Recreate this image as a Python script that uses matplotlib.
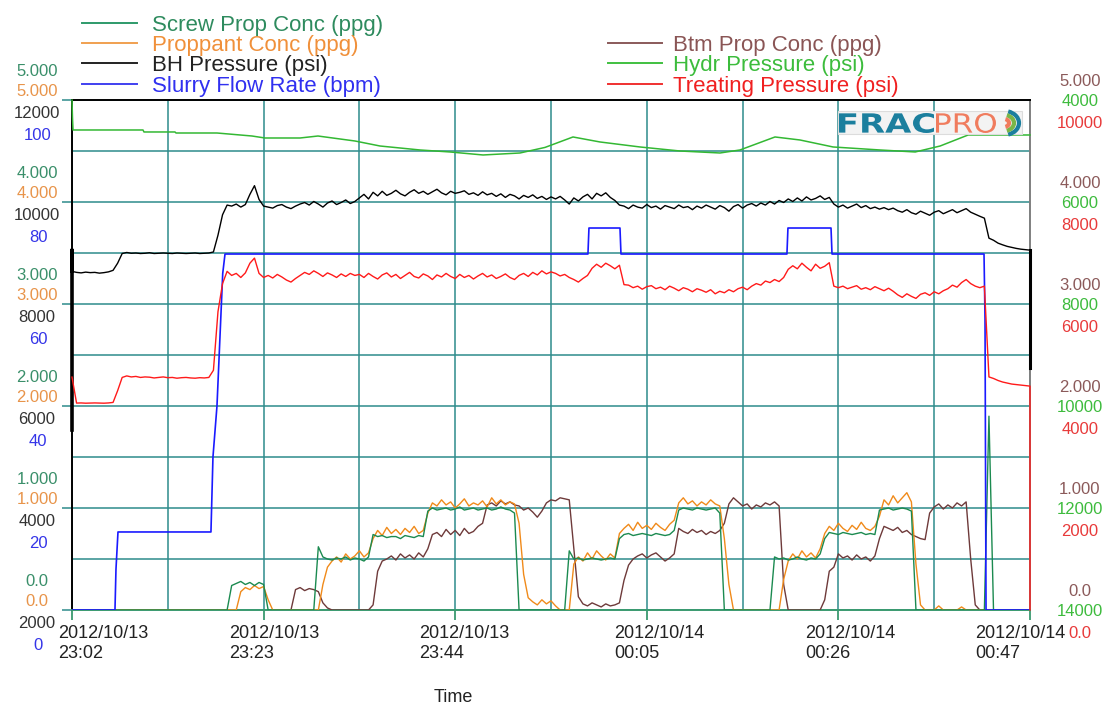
import numpy as np
import matplotlib.pyplot as plt
from matplotlib import transforms
from matplotlib.lines import Line2D
from matplotlib.patches import Rectangle, PathPatch, Arc
from matplotlib.textpath import TextPath
from matplotlib.font_manager import FontProperties

plt.rcParams['font.family'] = ['Liberation Sans', 'DejaVu Sans']

W, H = 1105, 706

# minutes after 2012/10/13 23:02, one record every 30 s
t_rec = np.arange(0, 105.01, 0.5)
x_ticks = [0, 21, 42, 63, 84, 105]
x_labels = ['2012/10/13\n23:02', '2012/10/13\n23:23', '2012/10/13\n23:44',
            '2012/10/14\n00:05', '2012/10/14\n00:26', '2012/10/14\n00:47']

bh_psi = ([8640, 8620, 8610, 8625, 8615, 8620, 8605, 8615, 8630, 8660]
          + [8800, 8990]
          + [9010, 8995, 9000, 8990, 8995, 9005, 8990, 8995, 9000, 8995,
             8990, 9000, 8995, 8990, 8995, 9000, 8990, 8995, 9000]
          + [9020, 9350, 9750, 9940]
          + [9920, 9960, 9900, 9950]
          + [10150, 10320, 10050, 9920]
          + [9900, 9880, 9930, 9950, 9900, 9870, 9920, 9960, 9990, 9940,
             10010, 9960, 9900, 9980, 10020, 9950, 9990, 10040, 9970, 10010]
          + [10080, 10150, 10060, 10190, 10120, 10210, 10130, 10170, 10230, 10160,
             10120, 10190, 10240, 10170, 10210, 10150, 10200, 10250, 10180, 10140,
             10210, 10170, 10190]
          + [10220, 10150, 10180, 10130, 10200, 10140, 10170, 10110, 10160, 10090,
             10150, 10120, 10060, 10130, 10090, 10140, 10070, 10110, 10050, 10100]
          + [10060, 10110, 10040, 9960, 10080, 10020, 10100, 10150, 10060, 10170,
             10120, 10180, 10090, 10030, 9940]
          + [9920, 9870, 9940, 9900, 9880, 9950, 9890, 9920, 9860, 9930,
             9900, 9870, 9940, 9890, 9910, 9850, 9920, 9880, 9940, 9900,
             9860, 9930, 9890, 9820, 9910, 9950, 9880, 9940, 9970, 9920]
          + [9980, 9940, 10010, 9960, 10030, 9990, 10060, 10010, 10080, 10020,
             10100, 10040, 10070, 10120, 10050, 10090]
          + [9960, 9900, 9940, 9880, 9920, 9960, 9890, 9930, 9870, 9900,
             9860, 9890, 9850, 9880]
          + [9830, 9800, 9850, 9790, 9760, 9820, 9780, 9740, 9800, 9830,
             9770, 9810, 9850, 9790, 9830, 9870, 9800, 9760, 9720]
          + [9683, 9291, 9250, 9193, 9160, 9130, 9110, 9090, 9075, 9065, 9056])
bh_first = [5528, 9056]
bh_last = 6743

treat_psi = ([4567, 4057, 4060, 4055, 4057, 4060, 4057, 4055, 4060, 4070]
             + [4300, 4560]
             + [4590, 4570, 4580, 4560, 4570, 4565, 4550, 4560, 4570, 4555,
                4560, 4545, 4555, 4560, 4550, 4545, 4555, 4550, 4560]
             + [4700, 5850, 6400, 6640]
             + [6560, 6600, 6520, 6610]
             + [6800, 6900, 6600, 6520]
             + [6560, 6510, 6580, 6530, 6470, 6430, 6500, 6560, 6620, 6580,
                6650, 6600, 6540, 6610, 6570, 6520, 6590, 6540, 6600, 6560]
             + [6580, 6520, 6600, 6540, 6490, 6570, 6610, 6530, 6580, 6500,
                6560, 6620, 6540, 6510, 6590, 6550, 6480, 6570, 6530, 6600,
                6540, 6500, 6580, 6520, 6560, 6490, 6550, 6600, 6530, 6570,
                6500, 6540, 6590, 6520, 6480, 6560, 6600, 6540, 6620, 6570,
                6650, 6590, 6630]
             + [6600, 6550, 6580, 6520, 6480, 6430, 6500, 6560]
             + [6700, 6780, 6720, 6800, 6750, 6690, 6760]
             + [6380]
             + [6370, 6320, 6350, 6290, 6340, 6360, 6300, 6330, 6280, 6350,
                6310, 6260, 6320, 6290, 6240, 6300, 6270, 6230, 6280]
             + [6200, 6250, 6220, 6280, 6240, 6300, 6330, 6280, 6350]
             + [6400, 6370, 6450, 6420, 6480, 6440, 6520]
             + [6680, 6750, 6690, 6800, 6720, 6650, 6780, 6700, 6740, 6810]
             + [6350, 6320, 6350, 6300, 6330, 6360, 6290, 6320, 6280, 6340,
                6300, 6260, 6310, 6250]
             + [6180, 6130, 6200, 6150, 6110, 6190, 6220, 6170, 6240, 6200, 6260]
             + [6300, 6370, 6330, 6420, 6480, 6400, 6350, 6320]
             + [6350, 4570, 4540, 4500, 4470, 4450, 4430, 4420, 4410, 4400, 4390])
treat_last = 0

screw_ppg = ([0.0] * 35
             + [0.24, 0.26, 0.28, 0.25, 0.27, 0.24, 0.27, 0.25]
             + [0.0] * 11
             + [0.62]
             + [0.52, 0.50, 0.49, 0.51, 0.50, 0.52, 0.49, 0.51, 0.50, 0.48, 0.52]
             + [0.74]
             + [0.72, 0.73, 0.71, 0.72, 0.72, 0.70, 0.73, 0.72, 0.71, 0.73, 0.72]
             + [0.97]
             + [1.00, 0.98, 0.99, 1.00, 0.98, 0.99, 1.01, 0.98, 0.99, 1.00,
                0.98, 0.99, 1.00, 0.98, 0.99, 1.01, 0.99, 0.98]
             + [0.95]
             + [0.0] * 11
             + [0.58]
             + [0.50, 0.51, 0.49, 0.50, 0.51, 0.50, 0.49, 0.50, 0.51, 0.50]
             + [0.70]
             + [0.74, 0.75, 0.73, 0.74, 0.75, 0.74, 0.73, 0.75, 0.74, 0.73, 0.74]
             + [0.78]
             + [0.98, 1.00, 0.99, 0.98, 1.00, 0.99, 0.98, 0.99, 1.00]
             + [0.95]
             + [0.0] * 11
             + [0.52, 0.50, 0.51, 0.49, 0.50, 0.52, 0.50, 0.49, 0.51, 0.50]
             + [0.55, 0.70]
             + [0.76, 0.75, 0.74, 0.76, 0.75, 0.74, 0.75, 0.76, 0.74, 0.75, 0.74]
             + [0.98]
             + [0.99, 1.00, 0.98, 0.99, 1.00, 0.99]
             + [0.97]
             + [0.0] * 16
             + [1.9]
             + [0.0] * 9)

prop_ppg = ([0.0] * 37
            + [0.18]
            + [0.22, 0.20, 0.24, 0.21, 0.23]
            + [0.10]
            + [0.0] * 11
            + [0.25, 0.42]
            + [0.48, 0.52, 0.47, 0.55, 0.50, 0.53, 0.58, 0.52, 0.56]
            + [0.70]
            + [0.78, 0.73, 0.81, 0.75, 0.79, 0.74, 0.80, 0.76, 0.82, 0.75, 0.78]
            + [0.95]
            + [1.05, 1.02, 1.08, 1.03, 1.06, 1.00, 1.04, 1.09, 1.02, 1.05,
               1.03, 1.07, 1.01, 1.10, 1.04, 1.08, 1.03, 1.06]
            + [1.04, 0.85, 0.35, 0.12]
            + [0.08, 0.05, 0.10, 0.06, 0.09, 0.04]
            + [0.0] * 3
            + [0.45]
            + [0.52, 0.48, 0.56, 0.50, 0.58, 0.53, 0.49, 0.55, 0.51]
            + [0.75]
            + [0.80, 0.84, 0.78, 0.86, 0.80, 0.83, 0.79, 0.85, 0.81, 0.78, 0.84]
            + [0.88, 1.05]
            + [1.10, 1.04, 1.07, 1.02, 1.06, 1.03, 1.08, 1.04]
            + [1.02, 0.70, 0.25]
            + [0.0] * 11
            + [0.30, 0.48]
            + [0.55, 0.50, 0.58, 0.52, 0.56, 0.51]
            + [0.60, 0.75]
            + [0.82, 0.78, 0.85, 0.80, 0.77, 0.83, 0.79, 0.86, 0.80, 0.78, 0.82]
            + [0.92]
            + [1.08, 1.03, 1.12, 1.05, 1.10, 1.15]
            + [1.06, 0.45, 0.05]
            + [0.0] * 3
            + [0.04]
            + [0.0] * 4
            + [0.03]
            + [0.0] * 15)

btm_ppg = ([np.nan] * 48 + [0.0]
           + [0.20, 0.22, 0.19, 0.21, 0.20]
           + [0.18, 0.07, 0.02]
           + [0.0] * 9
           + [0.05, 0.38, 0.48]
           + [0.50, 0.53, 0.49, 0.55, 0.51, 0.54, 0.50, 0.56, 0.52]
           + [0.60, 0.74]
           + [0.76, 0.72, 0.79, 0.74, 0.78, 0.73, 0.80, 0.75, 0.77, 0.82]
           + [0.85, 1.03]
           + [1.05, 1.02, 1.07, 1.04, 1.06, 1.03, 1.02]
           + [0.98, 1.00, 0.96]
           + [0.91, 0.97]
           + [1.05, 1.08, 1.07, 1.10, 1.09, 1.08]
           + [0.60, 0.13]
           + [0.06, 0.04, 0.07, 0.05, 0.03, 0.06, 0.04, 0.05]
           + [0.07, 0.29, 0.44]
           + [0.50, 0.53, 0.55, 0.51, 0.54, 0.56, 0.52, 0.48, 0.51]
           + [0.55, 0.80]
           + [0.77, 0.75, 0.79, 0.76, 0.78, 0.74, 0.77, 0.75]
           + [0.78, 0.85, 1.04]
           + [1.10, 1.06, 1.02, 1.04, 0.99, 1.03, 1.01, 1.05, 1.03, 1.06]
           + [1.02, 0.25]
           + [0.0] * 8
           + [0.10, 0.38, 0.42]
           + [0.55, 0.51, 0.53, 0.49, 0.54, 0.50, 0.52, 0.48, 0.53]
           + [0.70, 0.82]
           + [0.80, 0.78, 0.81, 0.76, 0.78, 0.74, 0.72]
           + [0.70, 0.69, 0.95]
           + [1.01, 1.04, 0.99, 1.03, 1.00, 1.05, 1.02, 1.06]
           + [0.50, 0.05]
           + [0.0] * 12)

rate_t = [0, 4.71, 4.82, 5.04, 15.23, 15.45, 15.89, 16.52, 16.77, 56.55, 56.66,
          60.06, 60.17, 78.36, 78.47, 83.19, 83.30, 99.96, 100.07, 100.18, 105]
rate_bpm = [0, 0, 8, 15.3, 15.3, 30, 40, 66, 69.8, 69.8, 74.9, 74.9, 69.8, 69.8,
            74.9, 74.9, 69.8, 69.8, 57, 0, 0]

hydr_t = [0, 0.05, 0.11, 7.78, 7.89, 11.29, 11.40, 15.89, 19.73, 21.15, 24.99,
          26.96, 31.02, 33.76, 38.14, 41.43, 45.05, 49.10, 51.84, 54.91, 57.87,
          62.25, 66.64, 71.02, 73.21, 77.05, 79.79, 83.41, 88.56, 92.42, 95.15,
          98.22, 105]
hydr_psi = [4000, 4330, 4588, 4588, 4627, 4627, 4647, 4647, 4706, 4745, 4745,
            4706, 4804, 4902, 4980, 5019, 5078, 5039, 4930, 4725, 4823, 4921,
            5000, 5039, 4980, 4725, 4784, 4921, 4980, 5019, 4902, 4686, 4686]

for name, s in [('bh', bh_psi), ('treat', treat_psi), ('screw', screw_ppg),
                ('prop', prop_ppg), ('btm', btm_ppg)]:
    if len(s) != len(t_rec):
        print(name, len(s), len(t_rec))

# axis tick label values
conc_ticks = [0, 1, 2, 3, 4, 5]
conc_labels = ['0.0', '1.000', '2.000', '3.000', '4.000', '5.000']
bh_ticks = [2000, 4000, 6000, 8000, 10000, 12000]
rate_ticks = [0, 20, 40, 60, 80, 100]
hydr_ticks = [14000, 12000, 10000, 8000, 6000, 4000]
treat_ticks = [0, 2000, 4000, 6000, 8000, 10000]
treat_labels = ['0.0', '2000', '4000', '6000', '8000', '10000']

c_screw, c_prop, c_bh, c_rate = '#1b8a50', '#f08a1a', '#000000', '#1a1aff'
c_btm, c_hydr, c_treat = '#6e3a3a', '#33b833', '#ff1a1a'
grid_c = '#2e8b8b'

fig = plt.figure(figsize=(W / 100, H / 100), dpi=100)
ax = fig.add_axes([72 / W, 1 - 610 / H, 958 / W, 510 / H])
ax.set_ylim(0, 10)
ax.set_yticks(range(0, 11, 2))
ax.set_yticks(range(1, 11, 2), minor=True)
ax.set_xticks(x_ticks)
ax.set_xticks(np.arange(0, 105.1, 10.5), minor=True)
ax.set_xticklabels([])
ax.set_yticklabels([])
ax.grid(True, which='both', color=grid_c, lw=1.1)
ax.tick_params(axis='x', which='major', direction='out', length=7, width=1.3, color='#3a9a70')
ax.tick_params(axis='y', which='major', direction='out', length=7, width=1.1, color=grid_c)
ax.tick_params(which='minor', length=0)
ax.spines['top'].set_color('black')
ax.spines['left'].set_color('black')
ax.spines['right'].set_color('#808080')
ax.spines['bottom'].set_color('#3a9a70')
for s in ax.spines.values():
    s.set_linewidth(1.4)


def twin(lo, hi):
    a = ax.twinx()
    a.set_ylim(lo, hi)
    a.axis('off')
    return a


ax_conc = twin(0, 5)
ax_bh = twin(2000, 12000)
ax_rate = twin(0, 100)
ax_treat = twin(0, 10000)
ax_hydr = twin(14000, 4000)

ax_hydr.plot(hydr_t, hydr_psi, color=c_hydr, lw=1.1, clip_on=False)
ax_bh.plot(np.concatenate([t_rec, [105]]), bh_psi + [bh_last], color=c_bh, lw=1.0)
ax_bh.plot([0, 0, 0], bh_first + bh_psi[:1], color=c_bh, lw=2.6, clip_on=False)
ax_bh.plot([105, 105], [bh_psi[-1], bh_last], color=c_bh, lw=2.2, clip_on=False)
ax_treat.plot(np.concatenate([t_rec, [105]]), treat_psi + [treat_last],
              color=c_treat, lw=1.0, clip_on=False)
ax_rate.plot(rate_t, rate_bpm, color=c_rate, lw=1.2)
ax_conc.plot(t_rec, btm_ppg, color=c_btm, lw=1.0)
ax_conc.plot(t_rec, prop_ppg, color=c_prop, lw=1.0)
ax_conc.plot(t_rec, screw_ppg, color=c_screw, lw=1.0)
ax.set_xlim(0, 105)

# stacked value labels on both sides
def side_labels(axis, vals, texts, xpix, dy, color):
    base = transforms.blended_transform_factory(fig.transFigure, axis.transData)
    tr = transforms.offset_copy(base, fig=fig, x=0, y=dy, units='dots')
    for v, s in zip(vals, texts):
        axis.text(xpix / W, v, s, transform=tr, ha='center', va='center',
                  color=color, fontsize=12, clip_on=False)


side_labels(ax_conc, conc_ticks, conc_labels, 37, 28, '#3a8f6a')
side_labels(ax_conc, conc_ticks, conc_labels, 37, 8, '#e8944a')
side_labels(ax_bh, bh_ticks, [str(v) for v in bh_ticks], 37, -13, '#333333')
side_labels(ax_rate, rate_ticks, [str(v) for v in rate_ticks], 38, -35, '#3535e8')
side_labels(ax_conc, conc_ticks, conc_labels, 1080, 18, '#8b5a5a')
side_labels(ax_hydr, hydr_ticks, [str(v) for v in hydr_ticks], 1080, -2, '#3dbb3d')
side_labels(ax_treat, treat_ticks, treat_labels, 1080, -23, '#e83a3a')

# time tick labels
x_shift = [-14, -34, -36, -33, -33, -55]
xbase = transforms.blended_transform_factory(ax.transData, fig.transFigure)
for xv, lab, dx in zip(x_ticks, x_labels, x_shift):
    tr = transforms.offset_copy(xbase, fig=fig, x=dx, y=0, units='dots')
    ax.text(xv, 1 - 625 / H, lab, transform=tr, ha='left', va='top', fontsize=13,
            color='#222222', linespacing=1.25, clip_on=False)

fig.text(453 / W, 1 - 702 / H, 'Time', ha='center', va='baseline', fontsize=13, color='#222222')

# legend
legend_left = [('Screw Prop Conc (ppg)', '#2e9a6a', '#2e8b5e', 22.7),
               ('Proppant Conc (ppg)', '#f0a050', '#f0903a', 42.7),
               ('BH Pressure (psi)', '#222222', '#222222', 63.3),
               ('Slurry Flow Rate (bpm)', '#4040f0', '#3030f0', 84.0)]
legend_right = [('Btm Prop Conc (ppg)', '#8a5a5a', '#8a5555', 43.3),
                ('Hydr Pressure (psi)', '#40c040', '#3cbc3c', 63.3),
                ('Treating Pressure (psi)', '#f03030', '#f02020', 84.0)]
for entries, x0, x1, xt in [(legend_left, 82, 137, 152), (legend_right, 608, 662, 673)]:
    for label, lc, tc, yl in entries:
        fig.add_artist(Line2D([x0 / W, x1 / W], [1 - yl / H, 1 - yl / H],
                              color=lc, lw=1.4, transform=fig.transFigure))
        fig.text(xt / W, 1 - (yl + 8) / H, label, color=tc, fontsize=16, va='baseline')

# FRACPRO logo
px = transforms.Affine2D().scale(1 / W, 1 / H) + fig.transFigure
fig.add_artist(Rectangle((838, H - 134), 184, 23, transform=px,
                         facecolor='#f3f3f3', edgecolor='#dcdcdc', lw=0.8))


def logo_word(text, x0, x1, weight, color):
    tp = TextPath((0, 0), text, size=20,
                  prop=FontProperties(family='DejaVu Sans', weight=weight))
    bb = tp.get_extents()
    tf = (transforms.Affine2D().translate(-bb.x0, -bb.y0)
          .scale((x1 - x0) / bb.width, 20 / bb.height)
          .translate(x0, H - 133) + px)
    fig.add_artist(PathPatch(tp, transform=tf, facecolor=color, edgecolor='none'))


logo_word('FRAC', 839, 934, 'bold', '#1b7f9e')
logo_word('PRO', 936, 996, 'normal', '#f07c5e')
for w, c in [(30, '#1b7f9e'), (20, '#7ab648'), (10, '#f07c5e')]:
    fig.add_artist(Arc((1004, H - 123), w, w * 0.8, theta1=-70, theta2=70,
                       transform=px, color=c, lw=3))

fig.savefig('out.png', dpi=100)
